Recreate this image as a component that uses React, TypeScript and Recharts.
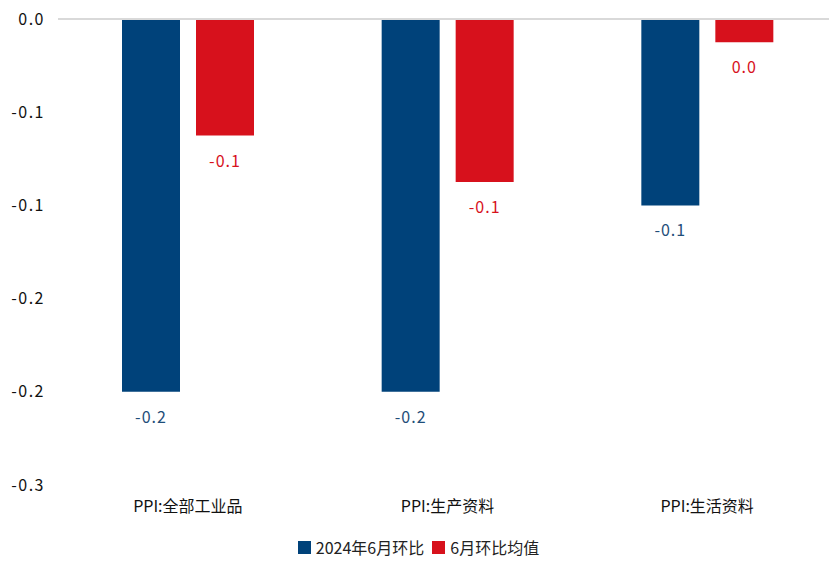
import React from "react";
import {
  BarChart,
  Bar,
  XAxis,
  YAxis,
  ReferenceLine,
  Legend,
  LabelList,
} from "recharts";

const categories = ["PPI:全部工业品", "PPI:生产资料", "PPI:生活资料"];
const june2024 = [-0.2, -0.2, -0.1];
const juneAvg = [-0.0625, -0.0875, -0.0125];
const yTicks = [0, -0.05, -0.1, -0.15, -0.2, -0.25];
const yTickLabels = ["0.0", "-0.1", "-0.1", "-0.2", "-0.2", "-0.3"];

const BLUE = "#00427A";
const RED = "#D7111C";
const FONT = "'Noto Sans CJK SC', 'Noto Sans', sans-serif";

const data = categories.map((name, i) => ({
  name,
  a: june2024[i],
  b: juneAvg[i],
}));

function fmt(v: number) {
  const r = Math.round(v * 10) / 10;
  return (r === 0 ? 0 : r).toFixed(1);
}

function makeLabel(color: string) {
  return (props: any) => {
    const { x, y, width, height, value } = props;
    const bottom = Math.max(Number(y), Number(y) + Number(height));
    return (
      <text
        x={Number(x) + Number(width) / 2}
        y={bottom + 31}
        textAnchor="middle"
        fill={color}
        fontSize={16}
        letterSpacing={1}
        fontFamily={FONT}
      >
        {fmt(value)}
      </text>
    );
  };
}

function LegendContent() {
  const items = [
    { label: "2024年6月环比", color: BLUE },
    { label: "6月环比均值", color: RED },
  ];
  return (
    <div
      style={{
        display: "flex",
        justifyContent: "center",
        alignItems: "center",
        fontFamily: FONT,
        fontSize: 16,
        lineHeight: "20px",
        height: 28,
        color: "#222",
        paddingLeft: 8,
      }}
    >
      {items.map((it) => (
        <span
          key={it.label}
          style={{ display: "inline-flex", alignItems: "center", marginRight: 8 }}
        >
          <span
            style={{
              width: 13,
              height: 13,
              background: it.color,
              display: "inline-block",
              marginRight: 5,
            }}
          />
          {it.label}
        </span>
      ))}
    </div>
  );
}

export default function App() {
  return (
    <div style={{ margin: "-8px 0 0 -8px", width: 837, height: 561, background: "#fff" }}>
      <BarChart
        width={837}
        height={561}
        data={data}
        margin={{ top: 19, right: 0, left: 0, bottom: 0 }}
        barSize={58}
        barGap={16}
      >
        <XAxis
          dataKey="name"
          axisLine={false}
          tickLine={false}
          height={48}
          tickMargin={10}
          tick={{ fill: "#111", fontSize: 16, fontFamily: FONT }}
        />
        <YAxis
          domain={[-0.25, 0]}
          ticks={yTicks}
          width={58}
          axisLine={false}
          tickLine={false}
          tickMargin={7}
          interval={0}
          tick={{ fill: "#111", fontSize: 16, fontFamily: FONT, letterSpacing: 1.5 }}
          tickFormatter={(v: number) => {
            const idx = yTicks.findIndex((t) => Math.abs(t - v) < 1e-9);
            return idx >= 0 ? yTickLabels[idx] : String(v);
          }}
        />
        <Legend verticalAlign="bottom" height={28} content={<LegendContent />} />
        <Bar dataKey="a" fill={BLUE} isAnimationActive={false}>
          <LabelList dataKey="a" content={makeLabel("#1F4E79")} />
        </Bar>
        <Bar dataKey="b" fill={RED} isAnimationActive={false}>
          <LabelList dataKey="b" content={makeLabel(RED)} />
        </Bar>
        <ReferenceLine y={0} stroke="#D9D9D9" strokeWidth={2} />
      </BarChart>
    </div>
  );
}
